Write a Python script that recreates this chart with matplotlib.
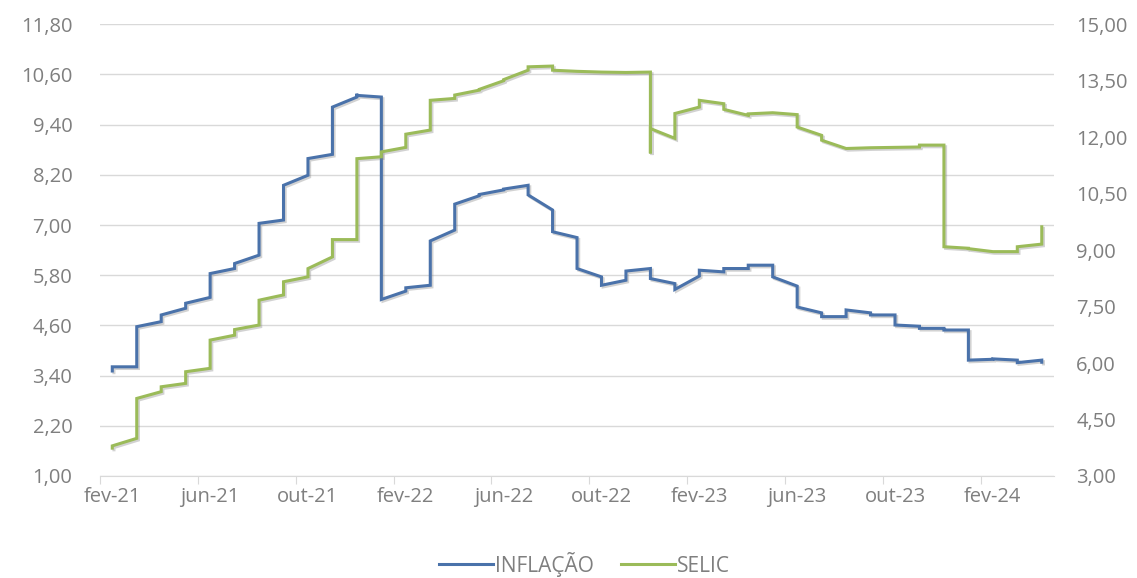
import numpy as np
import pandas as pd
import matplotlib
matplotlib.use('Agg')
import matplotlib.pyplot as plt
import matplotlib.ticker as ticker
import matplotlib.patheffects as pe

# one entry per month (fev-21 .. abr-24): values seen inside the month, in order
months = pd.period_range('2021-02', '2024-04', freq='M')

inflacao = [
    [3.51, 3.61], [3.61, 4.57], [4.69, 4.85], [5.01, 5.13], [5.27, 5.84],
    [5.96, 6.08], [6.28, 7.04], [7.12, 7.95], [8.19, 8.59], [8.69, 9.82],
    [10.06, 10.14, 10.10], [10.06, 5.22], [5.42, 5.50], [5.56, 6.62], [6.88, 7.50],
    [7.70, 7.73], [7.84, 7.86], [7.95, 7.72], [7.36, 6.84], [6.70, 5.96],
    [5.76, 5.56], [5.68, 5.90], [5.96, 5.72], [5.60, 5.46], [5.78, 5.92],
    [5.88, 5.96], [5.96, 6.04], [6.04, 5.76], [5.54, 5.04], [4.90, 4.81],
    [4.81, 4.97], [4.90, 4.85], [4.85, 4.61], [4.58, 4.53], [4.53, 4.49],
    [4.49, 3.77], [3.79, 3.80], [3.77, 3.71], [3.77, 3.72],
]

selic = [
    [3.74, 3.80], [4.00, 5.06], [5.24, 5.37], [5.46, 5.77], [5.86, 6.61],
    [6.74, 6.89], [7.01, 7.67], [7.81, 8.16], [8.29, 8.51], [8.82, 9.28],
    [9.28, 11.43], [11.48, 11.61], [11.73, 12.08], [12.19, 12.98], [13.03, 13.12],
    [13.25, 13.27], [13.50, 13.53], [13.78, 13.87], [13.89, 13.78], [13.75, 13.75],
    [13.73, 13.73], [13.72, 13.72], [13.73, 11.57, 12.23], [11.97, 12.63], [12.80, 12.98],
    [12.89, 12.74], [12.58, 12.62], [12.65, 12.65], [12.60, 12.27], [12.05, 11.92],
    [11.70, 11.70], [11.72, 11.72], [11.73, 11.73], [11.74, 11.79], [11.79, 9.09],
    [9.05, 9.04], [8.96, 8.96], [8.96, 9.09], [9.16, 9.62],
]

left_ticks = np.arange(1.0, 11.81, 1.2)
right_ticks = np.arange(3.0, 15.01, 1.5)
mes_pt = ['jan', 'fev', 'mar', 'abr', 'mai', 'jun', 'jul', 'ago', 'set', 'out', 'nov', 'dez']


def flatten(series):
    xs, ys = [], []
    for k, vals in enumerate(series):
        for v in vals:
            xs.append(k)
            ys.append(v)
    return xs, ys


def br(x, pos=None):
    return '{:.2f}'.format(x).replace('.', ',')


plt.rcParams['font.family'] = ['Open Sans', 'DejaVu Sans']
grey = '#7f7f7f'

fig = plt.figure(figsize=(11.37, 5.78), dpi=100)
ax = fig.add_axes([0.088, 0.1765, 0.839, 0.7815])
ax2 = ax.twinx()

shadow = [pe.SimpleLineShadow(offset=(1.2, -1.2), shadow_color='#7f7f7f', alpha=0.35),
          pe.Normal()]

x1, y1 = flatten(inflacao)
x2, y2 = flatten(selic)
l1, = ax.plot(x1, y1, color='#4a72aa', lw=2.2, label='INFLAÇÃO',
              solid_joinstyle='miter', path_effects=shadow)
l2, = ax2.plot(x2, y2, color='#9bbb59', lw=2.2, label='SELIC',
               solid_joinstyle='miter', path_effects=shadow)

ax.set_xlim(-0.5, 38.5)
ax.set_ylim(1.0, 11.8)
ax2.set_ylim(3.0, 15.0)
ax.set_yticks(left_ticks)
ax2.set_yticks(right_ticks)
ax.yaxis.set_major_formatter(ticker.FuncFormatter(br))
ax2.yaxis.set_major_formatter(ticker.FuncFormatter(br))

label_pos = np.arange(0, len(months), 4)
ax.set_xticks(label_pos - 0.5)
ax.set_xticklabels([])
ax.set_xticks(label_pos, minor=True)
ax.set_xticklabels(['{}-{:02d}'.format(mes_pt[months[i].month - 1], months[i].year % 100)
                    for i in label_pos], minor=True)

ax.grid(axis='y', color='#d9d9d9', lw=1)
ax.set_axisbelow(True)
for a in (ax, ax2):
    for s in ('top', 'left', 'right', 'bottom'):
        a.spines[s].set_visible(False)
ax.spines['bottom'].set_visible(True)
ax.spines['bottom'].set_color('#d9d9d9')

ax.tick_params(axis='x', which='major', length=6, color='#d9d9d9', direction='out')
ax.tick_params(axis='x', which='minor', length=0, pad=8, labelsize=14.5, labelcolor=grey)
ax.tick_params(axis='y', length=0, pad=20, labelsize=14.5, labelcolor=grey)
ax2.tick_params(axis='y', length=0, pad=16, labelsize=14.5, labelcolor=grey)

leg = fig.legend(handles=[l1, l2], loc='center', bbox_to_anchor=(0.514, 0.024), ncol=2,
                 frameon=False, fontsize=15, handlelength=2.6, columnspacing=1.3,
                 handletextpad=0.1)
for t in leg.get_texts():
    t.set_color(grey)
for h in leg.legend_handles:
    h.set_path_effects([])

fig.savefig('out.png', dpi=100)
